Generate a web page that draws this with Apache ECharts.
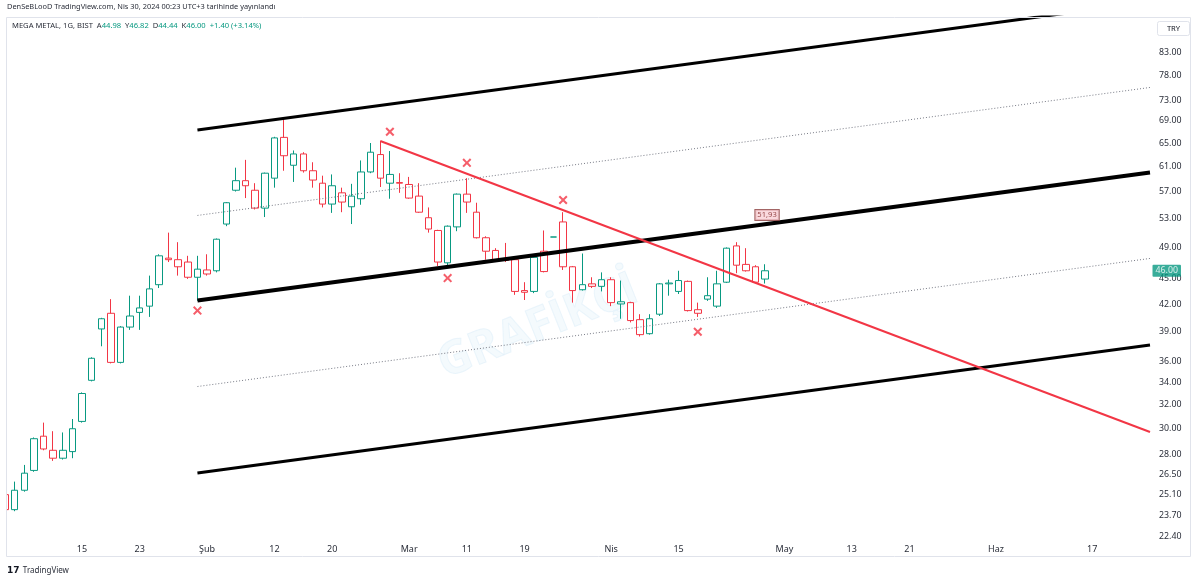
<!DOCTYPE html>
<html><head><meta charset="utf-8">
<script src="https://cdn.jsdelivr.net/npm/echarts@6/dist/echarts.min.js"></script>
<style>html,body{margin:0;padding:0;background:#fff}#c{width:1200px;height:583px}</style>
</head><body><div id="c"></div>
<script>
// ---- data ----
const dates = [
 '2024-01-03','2024-01-04','2024-01-05','2024-01-08','2024-01-09','2024-01-10','2024-01-11','2024-01-12','2024-01-15','2024-01-16',
 '2024-01-17','2024-01-18','2024-01-19','2024-01-22','2024-01-23','2024-01-24','2024-01-25','2024-01-26','2024-01-29','2024-01-30',
 '2024-01-31','2024-02-01','2024-02-02','2024-02-05','2024-02-06','2024-02-07','2024-02-08','2024-02-09','2024-02-12','2024-02-13',
 '2024-02-14','2024-02-15','2024-02-16','2024-02-19','2024-02-20','2024-02-21','2024-02-22','2024-02-23','2024-02-26','2024-02-27',
 '2024-02-28','2024-02-29','2024-03-01','2024-03-04','2024-03-05','2024-03-06','2024-03-07','2024-03-08','2024-03-11','2024-03-12',
 '2024-03-13','2024-03-14','2024-03-15','2024-03-18','2024-03-19','2024-03-20','2024-03-21','2024-03-22','2024-03-25','2024-03-26',
 '2024-03-27','2024-03-28','2024-03-29','2024-04-01','2024-04-02','2024-04-03','2024-04-04','2024-04-05','2024-04-08','2024-04-09',
 '2024-04-15','2024-04-16','2024-04-17','2024-04-18','2024-04-19','2024-04-22','2024-04-24','2024-04-25','2024-04-26','2024-04-29'
];
const open = [25.1,24.1,25.4,26.8,29.4,28.3,27.7,28.2,30.6,34.2, 39.3,41.0,35.9,39.5,41.6,41.8,44.3,47.6,47.4,47.1,
 45.2,46.1,46.0,52.2,57.2,58.7,57.2,54.5,59.1,66.0, 61.2,63.1,60.3,58.3,55.1,56.8,54.7,55.9,60.1,63.0,
 58.3,58.4,58.1,56.3,53.1,51.3,47.0,51.8,56.6,53.9, 50.3,48.6,47.5,47.4,43.6,43.5,48.5,50.4,52.5,46.5,
 43.7,44.4,44.1,44.9,42.05,42.2,40.3,38.8,40.9,44.4, 43.5,44.7,41.4,42.6,41.8,44.6,49.2,46.8,46.5,44.98];
const high = [25.3,26.0,27.2,29.3,30.5,29.8,29.7,30.8,33.1,36.4, 40.5,42.6,39.6,43.0,43.0,45.4,48.1,51.0,49.7,47.9,
 47.9,48.1,50.2,55.4,60.8,62.1,58.3,60.0,66.1,69.7, 63.7,63.4,61.7,59.5,59.7,57.6,58.2,62.0,65.0,65.35,
 63.6,59.9,59.3,58.3,54.6,51.4,52.0,56.7,59.1,55.3, 50.5,48.9,49.6,47.5,44.6,47.8,51.3,50.4,53.9,46.6,
 48.2,45.2,45.8,45.2,44.8,42.3,40.9,40.9,44.5,44.9, 46.0,44.8,42.2,45.2,46.0,49.0,49.7,48.9,46.7,46.82];
const low = [23.9,24.0,25.3,26.7,28.3,27.5,27.6,27.7,30.5,34.1, 37.5,35.8,35.8,39.2,39.2,40.6,43.9,47.1,45.4,45.0,
 42.4,45.4,45.8,51.9,57.0,56.0,54.3,53.2,57.6,60.3, 58.5,60.0,57.6,54.6,53.8,53.9,52.2,55.0,59.9,57.7,
 55.9,56.8,55.9,53.8,51.0,46.6,46.4,51.2,53.8,50.2, 47.4,47.1,47.1,43.1,42.5,43.3,45.8,50.4,46.1,42.2,
 43.6,43.9,43.5,41.8,40.4,40.0,38.5,38.7,40.7,43.0, 43.2,41.2,40.6,42.4,41.6,44.5,45.7,45.9,44.5,44.44];
const close = [24.1,25.4,26.6,29.2,28.4,27.7,28.3,30.0,33.0,36.3, 40.4,35.9,39.5,40.7,41.1,43.8,47.9,47.4,46.5,45.2,
 46.2,45.6,50.1,55.3,58.7,57.9,54.5,59.9,65.9,62.8, 63.1,60.3,58.8,55.1,57.9,55.4,56.3,60.1,63.4,59.1,
 59.7,58.3,56.0,53.9,51.5,47.1,51.9,56.6,55.4,50.3, 48.5,47.4,47.3,43.5,43.4,47.7,45.9,50.4,46.5,43.6,
 44.3,44.1,44.9,42.2,42.3,40.2,38.7,40.4,44.4,44.5, 44.8,41.3,41.0,43.0,44.4,48.9,46.7,46.0,44.6,46.00];

const tickDates = ['2024-01-15','2024-01-23','2024-02-01','2024-02-12','2024-02-20','2024-03-01','2024-03-11','2024-03-19',
 '2024-04-01','2024-04-15','2024-05-02','2024-05-13','2024-05-21','2024-06-03','2024-06-17'];
const tickTexts = ['15','23','Şub','12','20','Mar','11','19','Nis','15','May','13','21','Haz','17'];
const priceTicks = [22.4,23.7,25.1,26.5,28,30,32,34,36,39,42,45,49,53,57,61,65,69,73,78,83];
const futureHolidays = ['2024-05-01'];

// drawings (bar index, price)
const channelX = [20, 119];
const chanUpper = [67.33, 95.21];
const chanUpperDot = [53.43, 75.54];
const chanMid = [42.45, 60.02];
const chanLowerDot = [33.63, 47.56];
const chanLower = [26.61, 37.63];
const trendX = [39, 119];
const trendY = [65.35, 29.74];
const crossX = [20, 40, 48, 58, 46, 72];
const crossY = [41.3, 67.0, 61.6, 55.7, 45.1, 39.0];
const midLabelX = 79.2, midLabelY = 51.93, midLabelText = '51,93';

const symbolName = 'MEGA METAL, 1G, BIST';
const headerText = 'DenSeBLooD TradingView.com, Nis 30, 2024 00:23 UTC+3 tarihinde yayınlandı';

// view
const xMin = 0.1, xMax = 119.0;
const priceMin = 22.14, priceMax = 91.41;

const GREEN = '#089981', RED = '#f23645', TXT = '#131722';
const FONT = '"Noto Sans", "Open Sans", sans-serif';
const L = Math.log;

function buildAxisDates() {
  const out = dates.slice();
  const d = new Date(dates[dates.length - 1] + 'T12:00:00Z');
  d.setUTCDate(d.getUTCDate() + 1);
  while (out.length < 140) {
    const s = d.toISOString().slice(0, 10), w = d.getUTCDay();
    if (w !== 0 && w !== 6 && futureHolidays.indexOf(s) < 0) out.push(s);
    d.setUTCDate(d.getUTCDate() + 1);
  }
  return out;
}
const axisDates = buildAxisDates();
const tickIdx = tickDates.map(d => axisDates.indexOf(d));

const candleData = dates.map((d, i) => {
  const prev = i > 0 ? close[i - 1] : open[i];
  const col = close[i] >= prev ? GREEN : RED;
  return { value: [i, L(open[i]), L(close[i]), L(low[i]), L(high[i])],
    itemStyle: { color: '#ffffff', color0: col, borderColor: col, borderColor0: col } };
});

function seg(xs, ys, style, z) {
  return { type: 'line', data: xs.map((x, k) => [x, L(ys[k])]), symbol: 'none', lineStyle: style,
    z: z || 5, silent: true, animation: false };
}

const n = close.length;
const lastO = open[n-1], lastH = high[n-1], lastL = low[n-1], lastC = close[n-1];
const chg = lastC - close[n-2], pct = chg / close[n-2] * 100;
const sgn = v => (v >= 0 ? '+' : '') + v.toFixed(2);
const legendText = '{n|' + symbolName + '}  {k|A}{v|' + lastO.toFixed(2) + '}  {k|Y}{v|' + lastH.toFixed(2) +
  '}  {k|D}{v|' + lastL.toFixed(2) + '}  {k|K}{v|' + lastC.toFixed(2) + '}  {v|' + sgn(chg) + ' (' + sgn(pct) + '%)}';

const XPATH = 'path://M0,1.6L1.6,0L5,3.4L8.4,0L10,1.6L6.6,5L10,8.4L8.4,10L5,6.6L1.6,10L0,8.4L3.4,5Z';
const FS = 7.6;

const chart = echarts.init(document.getElementById('c'));
chart.setOption({
  animation: false,
  backgroundColor: '#ffffff',
  title: [
    { text: headerText, left: 7, top: 3, padding: 0,
      textStyle: { fontSize: 7.4, fontWeight: 'normal', color: '#2a2e39', fontFamily: FONT } },
    { text: legendText, left: 12, top: 22, padding: 0,
      textStyle: { fontSize: FS, fontWeight: 'normal', color: TXT, fontFamily: FONT,
        rich: { n: { fontSize: FS, color: '#2a2e39', fontFamily: FONT },
                k: { fontSize: FS, color: '#2a2e39', fontFamily: FONT },
                v: { fontSize: FS, color: GREEN, fontFamily: FONT } } } }
  ],
  grid: { left: 6, top: 17, width: 1144, height: 524, containLabel: false },
  xAxis: {
    type: 'value', min: xMin, max: xMax,
    axisLine: { show: false }, axisTick: { show: false }, splitLine: { show: false },
    axisLabel: { customValues: tickIdx, margin: 4, fontSize: 9, color: '#2a2e39', fontFamily: FONT,
      formatter: v => { const k = tickIdx.indexOf(Math.round(v)); return k >= 0 ? tickTexts[k] : ''; } }
  },
  yAxis: {
    type: 'value', position: 'right', min: L(priceMin), max: L(priceMax),
    axisLine: { show: false }, axisTick: { show: false }, splitLine: { show: false },
    axisLabel: { customValues: priceTicks.map(L), margin: 9, fontSize: 8.8, color: '#2a2e39', fontFamily: FONT,
      formatter: v => Math.exp(v).toFixed(2) }
  },
  graphic: { elements: [
    { type: 'rect', z: 50, silent: true, shape: { x: 0, y: 17, width: 6.5, height: 530 },
      style: { fill: '#ffffff' } },
    { type: 'rect', z: 51, silent: true, shape: { x: 6.5, y: 17.5, width: 1184, height: 539 },
      style: { fill: 'none', stroke: '#e0e3eb', lineWidth: 1 } },
    { type: 'text', z: -5, silent: true, x: 538, y: 327, rotation: 0.38,
      style: { text: 'GRAFİKÇİ', font: 'bold 46px "Open Sans"', fill: 'rgba(218,238,249,0.3)',
        stroke: 'rgba(215,236,248,0.45)', lineWidth: 1, align: 'center', verticalAlign: 'middle' } },
    { type: 'rect', silent: true, z: 52, shape: { x: 1157.5, y: 21.5, width: 32, height: 14, r: 2 },
      style: { fill: '#ffffff', stroke: '#e0e3eb', lineWidth: 1 } },
    { type: 'text', silent: true, z: 53, x: 1173.5, y: 29,
      style: { text: 'TRY', font: '7.6px ' + FONT, fill: TXT, align: 'center', verticalAlign: 'middle' } },
    { type: 'text', silent: true, x: 7, y: 571,
      style: { text: '{l|17} {t|TradingView}', verticalAlign: 'middle',
        rich: { l: { font: '900 9px "DejaVu Sans"', fill: '#131722' },
                t: { font: '8px ' + FONT, fill: '#2a2e39' } } } }
  ] },
  series: [
    { type: 'candlestick', data: candleData, encode: { x: 0, y: [1, 2, 3, 4] },
      barWidth: 7, clip: true, z: 2, itemStyle: { borderWidth: 1 } },
    seg(channelX, chanUpper, { color: '#000000', width: 3 }),
    seg(channelX, chanUpperDot, { color: '#787b86', width: 1, type: [1, 2] }),
    seg(channelX, chanMid, { color: '#000000', width: 4 }),
    seg(channelX, chanLowerDot, { color: '#787b86', width: 1, type: [1, 2] }),
    seg(channelX, chanLower, { color: '#000000', width: 3 }),
    seg(trendX, trendY, { color: RED, width: 2 }, 6),
    { type: 'scatter', data: crossX.map((x, k) => [x, L(crossY[k])]), symbol: XPATH, symbolSize: 9,
      itemStyle: { color: RED }, z: 7, silent: true },
    { type: 'scatter', data: [[midLabelX, L(midLabelY)]], symbol: 'circle', symbolSize: 1, z: 8, silent: true,
      itemStyle: { color: 'rgba(0,0,0,0)' },
      label: { show: true, position: 'inside', offset: [0, -11], formatter: midLabelText,
        fontSize: 7.6, color: '#7a1f1f', backgroundColor: '#f9d0d5', borderColor: '#8a3b3b', borderWidth: 1,
        padding: [1, 2], fontFamily: FONT } },
    { type: 'scatter', data: [[xMax, L(lastC)]], symbol: 'circle', symbolSize: 1, clip: false, z: 60, silent: true,
      itemStyle: { color: 'rgba(0,0,0,0)' },
      label: { show: true, position: 'right', distance: 2, formatter: lastC.toFixed(2),
        fontSize: 8.8, color: '#ffffff', backgroundColor: GREEN, padding: [2, 3, 1, 3], borderRadius: 1, fontFamily: FONT } }
  ]
});
</script></body></html>
